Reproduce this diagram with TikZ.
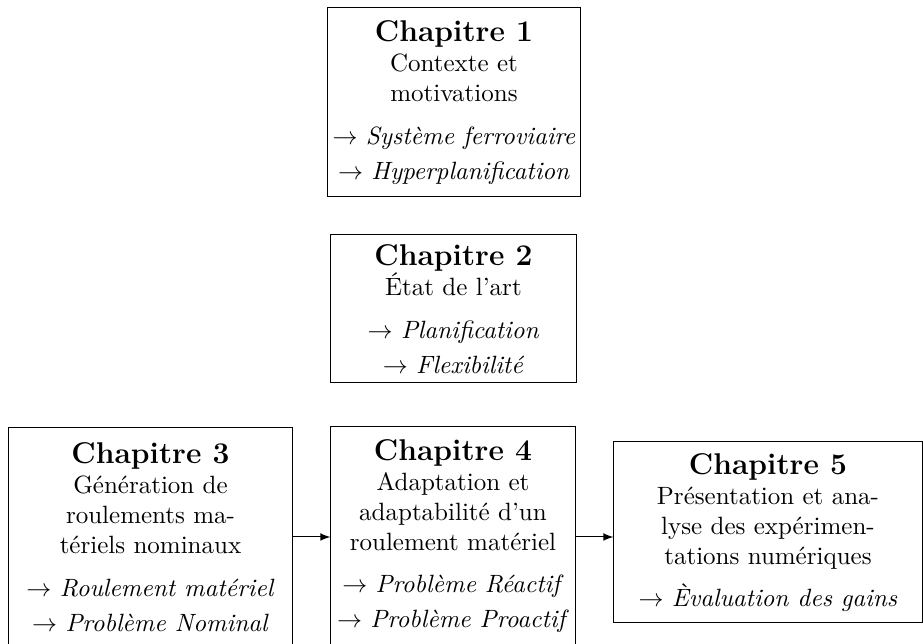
\documentclass[tikz,border=0pt]{standalone}
\usepackage{tikz}

\tikzset{
  chapbox/.style={draw, align=center, inner sep=2pt, font=\normalsize},
  lien/.style={-latex}
}

\begin{document}
\begin{tikzpicture}[x=0.4pt, y=-0.4pt]

% frame of the picture
\path[use as bounding box, clip] (0,0) rectangle (923,644);

% the chapters
\node[chapbox, minimum width=98.4pt, minimum height=75.6pt] (ch1) at (454,102.5)
  {\textbf{\large Chapitre 1}\\ Contexte et\\ motivations\\[5pt]
   $\rightarrow$ \textit{Système ferroviaire}\\[2pt] $\rightarrow$ \textit{Hyperplanification}};
\node[chapbox, minimum width=98pt, minimum height=59.2pt] (ch2) at (453.5,309)
  {\textbf{\large Chapitre 2}\\ État de l'art\\[5pt]
   $\rightarrow$ \textit{Planification}\\[2pt] $\rightarrow$ \textit{Flexibilité}};
\node[chapbox, minimum width=113.2pt, minimum height=87.2pt] (ch3) at (150.5,537)
  {\textbf{\large Chapitre 3}\\ Génération de\\ roulements ma-\\ tériels nominaux\\[5pt]
   $\rightarrow$ \textit{Roulement matériel}\\[2pt] $\rightarrow$ \textit{Problème Nominal}};
\node[chapbox, minimum width=97.6pt, minimum height=87.2pt] (ch4) at (453,536)
  {\textbf{\large Chapitre 4}\\ Adaptation et\\ adaptabilité d'un\\ roulement matériel\\[5pt]
   $\rightarrow$ \textit{Problème Réactif}\\[2pt] $\rightarrow$ \textit{Problème Proactif}};
\node[chapbox, minimum width=123.2pt, minimum height=72.4pt] (ch5) at (768,532.5)
  {\textbf{\large Chapitre 5}\\ Présentation et ana-\\ lyse des expérimen-\\ tations numériques\\[5pt]
   $\rightarrow$ \textit{Èvaluation des gains}};

% links
\draw[lien] (ch3.east |- 0,537) -- (ch4.west |- 0,537);
\draw[lien] (ch4.east |- 0,537) -- (ch5.west |- 0,537);

\end{tikzpicture}
\end{document}
